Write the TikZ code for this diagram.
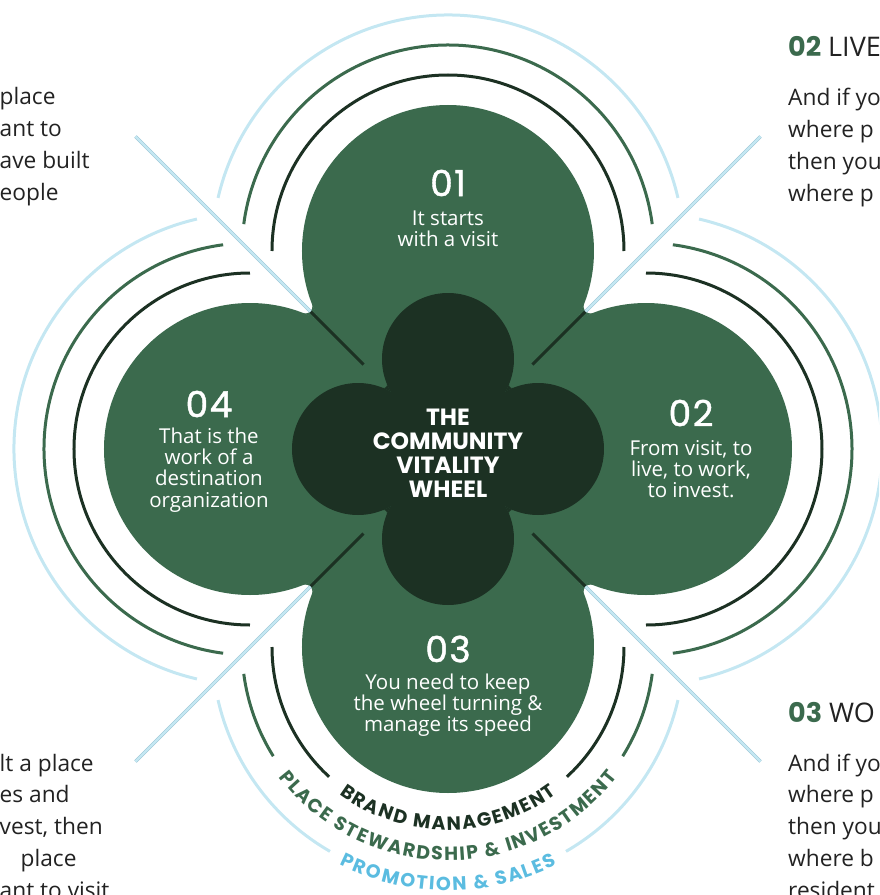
\documentclass[tikz,border=0pt]{standalone}
\usepackage{fontspec}
\setmainfont{Open Sans}
\newfontfamily\numfont{Poppins}
\newfontfamily\digitfont{Poppins}[FakeBold=1.2,LetterSpace=4]
\usetikzlibrary{decorations.text}

\definecolor{wheelgreen}{HTML}{3B6A4D}
\definecolor{wheeldark}{HTML}{1C3123}
\definecolor{ringblue}{HTML}{C4E7F2}
\definecolor{lineblue}{HTML}{9CC6D6}
\definecolor{labelblue}{HTML}{5BBCE0}
\definecolor{sidegray}{HTML}{222222}

\newcommand\arcfont{\numfont\bfseries\fontsize{19}{19}\selectfont}

\begin{document}
\begin{tikzpicture}
        [x=1pt,y=1pt,every node/.style={inner sep=0pt},
         number/.style={font=\digitfont\fontsize{36}{36}\selectfont,text=white},
         body/.style={font=\fontsize{20.5}{21.3}\selectfont,text=white,align=center},
         title/.style={font=\numfont\bfseries\fontsize{23.5}{24}\selectfont,text=white,align=center},
         side/.style={font=\fontsize{22.7}{32}\selectfont,text=sidegray,anchor=base west},
         head/.style={font=\fontsize{27}{27}\selectfont,text=sidegray,anchor=base west},
         darkring/.style={draw=wheeldark,line width=3pt},
         greenring/.style={draw=wheelgreen,line width=3pt},
         bluering/.style={draw=ringblue,line width=3pt},
         spoke/.style={draw=wheeldark,line width=3pt},
         ray/.style={draw=lineblue,line width=0.5pt,double=ringblue,double distance=2.4pt}]
        \useasboundingbox (-448,-446) rectangle (431,449);
        \clip (-448,-446) rectangle (431,449);

        % four petals
        \fill[wheelgreen] (0,198) -- (198,0) -- (0,-198) -- (-198,0) -- cycle;
        \foreach \a in {0,90,180,270}
          \fill[wheelgreen] (\a:198) circle[radius=146pt];
        \foreach \r in {0,90,180,270}
          \fill[wheelgreen,rotate=\r] (-136.03,145.09) -- (-128.27,128.27) -- (-145.09,136.03)
            arc[start angle=248.75,end angle=381.25,radius=7pt];

        % rings round top, right and left petal
        \foreach \a in {0,90,180} {
          \draw[darkring,shift={(\a:198)}] (\a-90:176) arc[start angle=\a-90,delta angle=180,radius=176pt];
          \draw[greenring,shift={(\a:198)}] (\a-82.5:206) arc[start angle=\a-82.5,delta angle=165,radius=206pt];
          \draw[bluering,shift={(\a:198)}] (\a-77:236) arc[start angle=\a-77,delta angle=154,radius=236pt];
        }
        % rings round bottom petal, cut for the labels
        \begin{scope}[shift={(0,-198)}]
          \draw[darkring] (180:176) arc[start angle=180,end angle=227.5,radius=176pt];
          \draw[darkring] (312.5:176) arc[start angle=312.5,end angle=360,radius=176pt];
          \draw[greenring] (187.5:206) arc[start angle=187.5,end angle=212,radius=206pt];
          \draw[greenring] (328:206) arc[start angle=328,end angle=352.5,radius=206pt];
          \draw[bluering] (193:236) arc[start angle=193,end angle=240,radius=236pt];
          \draw[bluering] (300:236) arc[start angle=300,end angle=347,radius=236pt];
          \path[decorate,decoration={text along path,text align=fit to path,
              text={|\arcfont\color{wheeldark}|BRAND MANAGEMENT}}]
            (233.5:183) arc[start angle=233.5,end angle=306.5,radius=183pt];
          \path[decorate,decoration={text along path,text align=fit to path,
              text={|\arcfont\color{wheelgreen}|PLACE STEWARDSHIP {\&} INVESTMENT}}]
            (217.5:213.5) arc[start angle=217.5,end angle=322.5,radius=213.5pt];
          \path[decorate,decoration={text along path,text align=fit to path,
              text={|\arcfont\color{labelblue}|PROMOTION {\&} SALES}}]
            (243.5:243.5) arc[start angle=243.5,end angle=296.5,radius=243.5pt];
        \end{scope}

        % spokes
        \foreach \a in {45,135,225,315} {
          \coordinate (out\a) at (\a:442);
          \coordinate (tip\a) at (\a:194.6);
          \coordinate (in\a) at (\a:119.5);
          \draw[spoke] (tip\a) -- (in\a);
          \draw[ray] (out\a) -- (tip\a);
        }

        % inner clover
        \fill[wheeldark] (0,90) -- (90,0) -- (0,-90) -- (-90,0) -- cycle;
        \foreach \a in {0,90,180,270}
          \fill[wheeldark] (\a:90) circle[radius=66pt];
        \foreach \r in {0,90,180,270}
          \fill[wheeldark,rotate=\r] (-61.21,65.12) -- (-57.37,57.37) -- (-65.12,61.21)
            arc[start angle=247.88,end angle=382.12,radius=3pt];

        \node[title] (wheel) at (0,-4) {THE\\COMMUNITY\\VITALITY\\WHEEL};

        % petal texts
        \node[number] (n1) at (0,266) {01};
        \node[body] (t1) at (0,220) {It starts\\with a visit};
        \node[number] (n2) at (243,36) {02};
        \node[body] (t2) at (243,-20) {From visit, to\\live, to work,\\to invest.};
        \node[number] (n3) at (0,-200) {03};
        \node[body] (t3) at (0,-256) {You need to keep\\the wheel turning \&\\manage its speed};
        \node[number] (n4) at (-239,45) {04};
        \node[body] (t4) at (-239,-21) {That is the\\work of a\\destination\\organization};

        % side texts
        \foreach \line [count=\i] in {place,ant to,ave built,eople}
          \node[side] (lt\i) at (-448.5,375.8-31.8*\i) {\line};
        \foreach \line [count=\i] in {lt a place,es and,{vest, then},\hspace{21pt}place,ant to visit}
          \node[side] (lb\i) at (-448.5,-290.2-31.8*\i) {\line};
        \node[head] (live) at (340,392) {{\numfont\bfseries\color{wheelgreen}02} LIVE};
        \foreach \line [count=\i] in {And if yo,where p,then you,where p}
          \node[side] (rt\i) at (340,374.8-31.8*\i) {\line};
        \node[head] (work) at (340,-273) {{\numfont\bfseries\color{wheelgreen}03} WO};
        \foreach \line [count=\i] in {And if yo,where p,then you,where b,resident}
          \node[side] (rb\i) at (340,-290.2-31.8*\i) {\line};
      \end{tikzpicture}
\end{document}
